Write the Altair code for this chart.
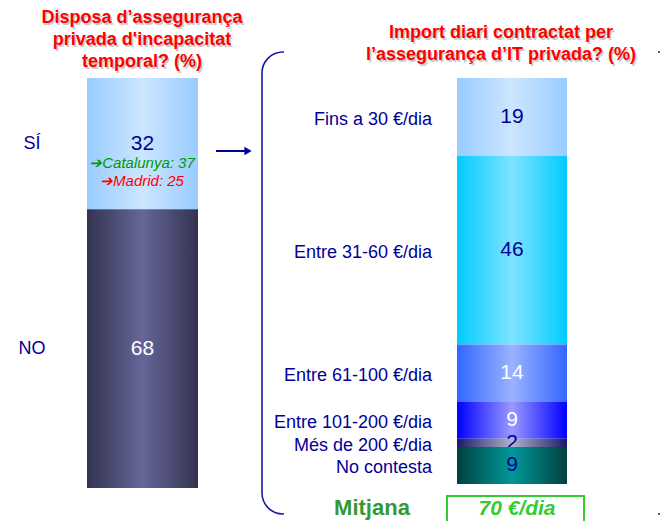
import altair as alt
import pandas as pd

# ---------------- data ----------------
left_cats = ["SÍ", "NO"]
left_vals = [32, 68]
right_cats = ["Fins a 30 €/dia", "Entre 31-60 €/dia", "Entre 61-100 €/dia",
              "Entre 101-200 €/dia", "Més de 200 €/dia", "No contesta"]
right_vals = [19, 46, 14, 9, 2, 9]
left_notes = ["➔Catalunya: 37", "➔Madrid: 25"]
left_title = ["Disposa d’assegurança", "privada d'incapacitat", "temporal? (%)"]
right_title = ["Import diari contractat per", "l’assegurança d’IT privada? (%)"]
mean_label = "Mitjana"
mean_value = "70 €/dia"


def stack(cats, vals):
    df = pd.DataFrame({"cat": cats, "val": vals})
    df["end"] = df["val"].cumsum()
    df["start"] = df["end"] - df["val"]
    df["mid"] = (df["start"] + df["end"]) / 2
    return df


left_df = stack(left_cats, left_vals)
right_df = stack(right_cats, right_vals)

# ---------------- styles ----------------
FONT = "Liberation Sans"
NAVY = "#000099"
OFF = 8  # page margin; chart coords = image coords - OFF


def P(v):
    return v - OFF


W, H = 652, 513
ys = alt.Scale(domain=[0, 100], range=[P(78), P(488)], nice=False, zero=False)

seg_style = {
    "SÍ": ("#99CCFF", "#CCE6FF", NAVY),
    "NO": ("#333350", "#666699", "white"),
    "Fins a 30 €/dia": ("#99CCFF", "#CCE6FF", NAVY),
    "Entre 31-60 €/dia": ("#00CCFF", "#7FE3FF", NAVY),
    "Entre 61-100 €/dia": ("#3366FF", "#99B3FF", "white"),
    "Entre 101-200 €/dia": ("#0000FF", "#9999FF", "white"),
    "Més de 200 €/dia": ("#1A1A66", "#B3B3CC", NAVY),
    "No contesta": ("#004040", "#009999", NAVY),
}


def grad(edge, center):
    return alt.Gradient(
        gradient="linear", x1=0, x2=1, y1=0, y2=0,
        stops=[alt.GradientStop(offset=0, color=edge),
               alt.GradientStop(offset=0.5, color=center),
               alt.GradientStop(offset=1, color=edge)])


one = pd.DataFrame({"k": [0]})


def txt(t, x, y, **kw):
    params = dict(font=FONT, baseline="middle", align="center")
    params.update(kw)
    return alt.Chart(one).mark_text(text=t, **params).encode(
        x=alt.value(P(x)), y=alt.value(P(y)))


def box(x0, x1, y0, y1, **kw):
    return alt.Chart(one).mark_rect(**kw).encode(
        x=alt.value(P(x0)), x2=alt.value(P(x1)),
        y=alt.value(P(y0)), y2=alt.value(P(y1)))


layers = []

# bracket around right panel (rounded rect, top/bottom middle hidden)
layers.append(box(262, 684, 52, 514, fill="white", fillOpacity=0,
                  stroke="#1A1AA0", strokeWidth=1.6, cornerRadius=21))
layers.append(box(284, 658, 46, 58, fill="white"))
layers.append(box(284, 658, 508, 520, fill="white"))


def bar_layers(df, x0, x1):
    out = []
    for c in df["cat"]:
        edge, center, tcol = seg_style[c]
        sub = alt.Chart(df).transform_filter(alt.datum.cat == c)
        out.append(sub.mark_rect(fill=grad(edge, center)).encode(
            x=alt.value(P(x0)), x2=alt.value(P(x1)),
            y=alt.Y("start:Q", scale=ys, axis=None), y2="end:Q"))
        out.append(sub.mark_text(font=FONT, fontSize=21, color=tcol,
                                 baseline="middle").encode(
            x=alt.value(P((x0 + x1) / 2)),
            y=alt.Y("mid:Q", scale=ys, axis=None),
            text="val:Q"))
    return out


layers += bar_layers(left_df, 87, 198)
layers += bar_layers(right_df, 457, 567)

# category labels
layers.append(alt.Chart(left_df).mark_text(
    font=FONT, fontSize=18, color=NAVY, baseline="middle").encode(
    x=alt.value(P(32)), y=alt.Y("mid:Q", scale=ys, axis=None), text="cat:N"))
layers.append(alt.Chart(right_df).mark_text(
    font=FONT, fontSize=18, color=NAVY, baseline="middle", align="right",
    dy=3).encode(
    x=alt.value(P(432)), y=alt.Y("mid:Q", scale=ys, axis=None), text="cat:N"))

# notes in left bar
layers.append(txt(left_notes[0], 142, 163, fontSize=15, fontStyle="italic",
                  color="#009900"))
layers.append(txt(left_notes[1], 142, 181, fontSize=15, fontStyle="italic",
                  color="#FF0000"))

# arrow
layers.append(alt.Chart(one).mark_rule(color=NAVY, strokeWidth=2).encode(
    x=alt.value(P(216)), x2=alt.value(P(246)), y=alt.value(P(151))))
layers.append(alt.Chart(one).mark_point(shape="triangle-right", filled=True,
                                        opacity=1, color=NAVY, size=70).encode(
    x=alt.value(P(248)), y=alt.value(P(151))))

# titles (with soft shadow)
for i, line in enumerate(left_title):
    y = 18 + 22 * i
    layers.append(txt(line, 143.5, y + 1.5, fontSize=18, fontWeight="bold",
                      color="#999999", opacity=0.5))
    layers.append(txt(line, 142, y, fontSize=18, fontWeight="bold",
                      color="#FF0000"))
for i, line in enumerate(right_title):
    y = 33 + 22 * i
    layers.append(txt(line, 502.5, y + 1.5, fontSize=18, fontWeight="bold",
                      color="#999999", opacity=0.5))
    layers.append(txt(line, 501, y, fontSize=18, fontWeight="bold",
                      color="#FF0000"))

# mean
layers.append(txt(mean_label, 372, 515, fontSize=22, fontWeight="bold",
                  baseline="alphabetic", color="#339933"))
layers.append(box(447, 584, 496, 540, fill="white", stroke="#33CC33",
                  strokeWidth=2))
layers.append(txt(mean_value, 517, 515, fontSize=21, fontWeight="bold",
                  baseline="alphabetic", fontStyle="italic", color="#33CC33"))

chart = alt.layer(*layers).properties(
    width=W, height=H, padding=0, autosize=alt.AutoSizeParams(type="none")
).configure_view(stroke=None)

chart.save("out.html", embed_options={"renderer": "svg", "actions": False})
